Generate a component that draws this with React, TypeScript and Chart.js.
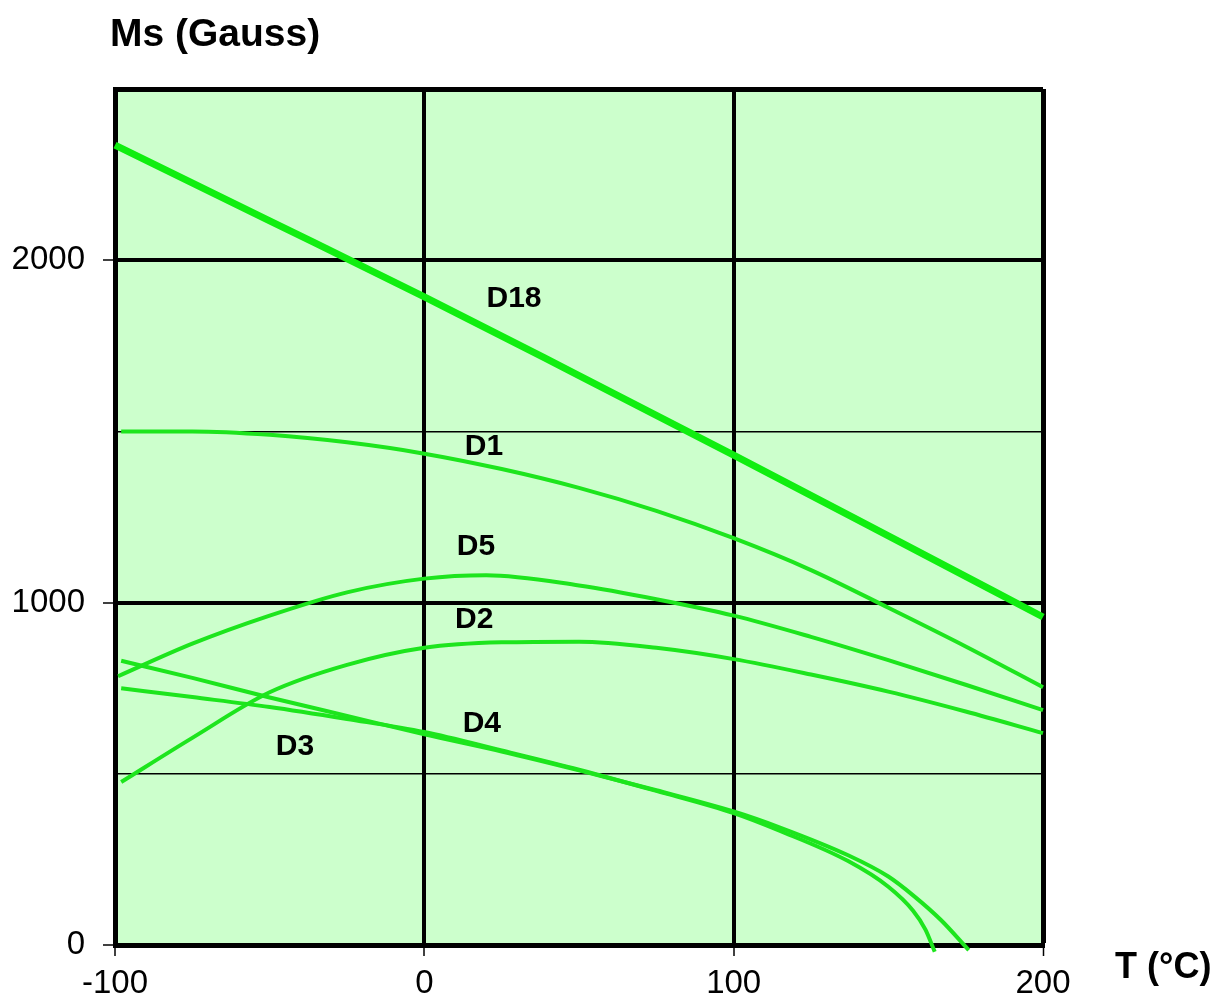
import React, { useEffect, useRef } from 'react';
import { Chart, registerables } from 'chart.js';

Chart.register(...registerables);

// ---- data (T in °C, Ms in Gauss) ----
const d18T = [-100, -50, 0, 50, 100, 150, 200];
const d18Ms = [2336, 2115, 1893, 1663, 1431, 1195, 958];

const d1T = [-98, -75, -50, -25, 0, 25, 50, 75, 100, 125, 150, 175, 200];
const d1Ms = [1500, 1500, 1490, 1468, 1435, 1390, 1335, 1268, 1188, 1095, 985, 872, 753];

const d5T = [-99, -75, -50, -25, 0, 20, 50, 75, 100, 125, 150, 175, 200];
const d5Ms = [785, 880, 962, 1030, 1070, 1080, 1050, 1010, 962, 900, 832, 760, 686];

const d2T = [-98, -75, -50, -25, 0, 25, 50, 75, 100, 125, 150, 175, 200];
const d2Ms = [476, 605, 738, 818, 868, 884, 886, 868, 835, 790, 740, 682, 619];

const d4T = [-98, -75, -50, -25, 0, 25, 50, 75, 100, 115, 137, 150, 158, 167, 176];
const d4Ms = [830, 780, 723, 669, 615, 565, 510, 452, 390, 343, 262, 200, 145, 73, -15];

const d3T = [-98, -75, -50, -25, 0, 25, 50, 75, 100, 115, 137, 150, 158, 162, 165];
const d3Ms = [750, 724, 695, 660, 622, 568, 512, 450, 385, 333, 245, 170, 100, 45, -20];

const xTickLabels = [-100, 0, 100, 200];
const yTickLabels = [0, 1000, 2000];

const curveNames = ['D18', 'D1', 'D5', 'D2', 'D4', 'D3'];
const curveNameT = [29, 19.3, 16.7, 16.1, 18.6, -41.8];
const curveNameMs = [1887, 1454, 1162, 949, 645, 578];

const yTitle = 'Ms (Gauss)';
const xTitle = 'T (°C)';

const FONT = "'Liberation Sans', Arial, sans-serif";
const GREEN = '#1de51d';
const GREEN_BRIGHT = '#10ee10';

const toPts = (t: number[], m: number[]) => t.map((v, i) => ({ x: v, y: m[i] }));

const bgPlugin = {
  id: 'plotBg',
  beforeDraw(chart: any) {
    const { ctx, chartArea: a } = chart;
    ctx.save();
    ctx.fillStyle = '#ccffcc';
    ctx.fillRect(a.left, a.top, a.right - a.left, a.bottom - a.top);
    ctx.restore();
  },
};

const textPlugin = {
  id: 'texts',
  afterDraw(chart: any) {
    const { ctx, scales } = chart;
    ctx.save();
    ctx.fillStyle = '#000';
    ctx.font = `bold 30px ${FONT}`;
    ctx.textAlign = 'center';
    ctx.textBaseline = 'middle';
    curveNames.forEach((n, i) => {
      ctx.fillText(n, scales.x.getPixelForValue(curveNameT[i]), scales.y.getPixelForValue(curveNameMs[i]));
    });
    ctx.textAlign = 'left';
    ctx.textBaseline = 'alphabetic';
    ctx.font = `bold 39px ${FONT}`;
    ctx.fillText(yTitle, 110, 46);
    ctx.font = `bold 36px ${FONT}`;
    ctx.fillText(xTitle, 1115, 978);
    ctx.restore();
  },
};

export default function App() {
  const ref = useRef<HTMLCanvasElement | null>(null);
  useEffect(() => {
    if (!ref.current) return;
    const mk = (t: number[], m: number[], w: number, c: string) => ({
      data: toPts(t, m),
      borderColor: c,
      backgroundColor: c,
      borderWidth: w,
      pointRadius: 0,
      cubicInterpolationMode: 'monotone' as const,
      fill: false,
      clip: false as const,
    });
    const chart = new Chart(ref.current, {
      type: 'line',
      data: {
        datasets: [
          mk(d18T, d18Ms, 7, GREEN_BRIGHT),
          mk(d1T, d1Ms, 4, GREEN),
          mk(d5T, d5Ms, 4, GREEN),
          mk(d2T, d2Ms, 4, GREEN),
          mk(d4T, d4Ms, 4, GREEN),
          mk(d3T, d3Ms, 4, GREEN),
        ],
      },
      options: {
        animation: false,
        responsive: false,
        layout: { padding: { top: 89, right: 176, left: 0, bottom: 0 } },
        plugins: { legend: { display: false }, tooltip: { enabled: false } },
        scales: {
          x: {
            type: 'linear',
            min: -100,
            max: 200,
            afterFit: (s: any) => {
              s.height = 56;
            },
            ticks: {
              stepSize: 100,
              color: '#000',
              padding: 8,
              font: { family: FONT, size: 33 },
              callback: (v: any) => (xTickLabels.includes(Number(v)) ? String(v) : ''),
              maxRotation: 0,
            },
            grid: {
              color: '#000',
              lineWidth: (c: any) => (c.tick && c.tick.value === 200 ? 5 : 4),
              tickLength: 11,
              tickWidth: 1.5,
              tickColor: '#000',
            },
            border: { color: '#000', width: 5 },
          },
          y: {
            type: 'linear',
            min: 0,
            max: 2500,
            afterFit: (s: any) => {
              s.width = 115;
            },
            ticks: {
              stepSize: 500,
              color: '#000',
              padding: 18,
              font: { family: FONT, size: 33 },
              callback: (v: any) => (yTickLabels.includes(Number(v)) ? String(v) : ''),
            },
            grid: {
              color: '#000',
              lineWidth: (c: any) => {
                const v = c.tick ? c.tick.value : 0;
                if (v === 2500) return 5;
                return v % 1000 === 0 ? 4 : 1.5;
              },
              tickLength: 12,
              tickWidth: 1.5,
              tickColor: (c: any) =>
                c.tick && yTickLabels.includes(c.tick.value) ? '#000' : 'rgba(0,0,0,0)',
            },
            border: { color: '#000', width: 5 },
          },
        },
      },
      plugins: [bgPlugin, textPlugin],
    });
    return () => chart.destroy();
  }, []);
  return (
    <div style={{ position: 'absolute', left: 0, top: 0, width: 1219, height: 1001, background: '#fff' }}>
      <canvas ref={ref} width={1219} height={1001} style={{ display: 'block' }} />
    </div>
  );
}
